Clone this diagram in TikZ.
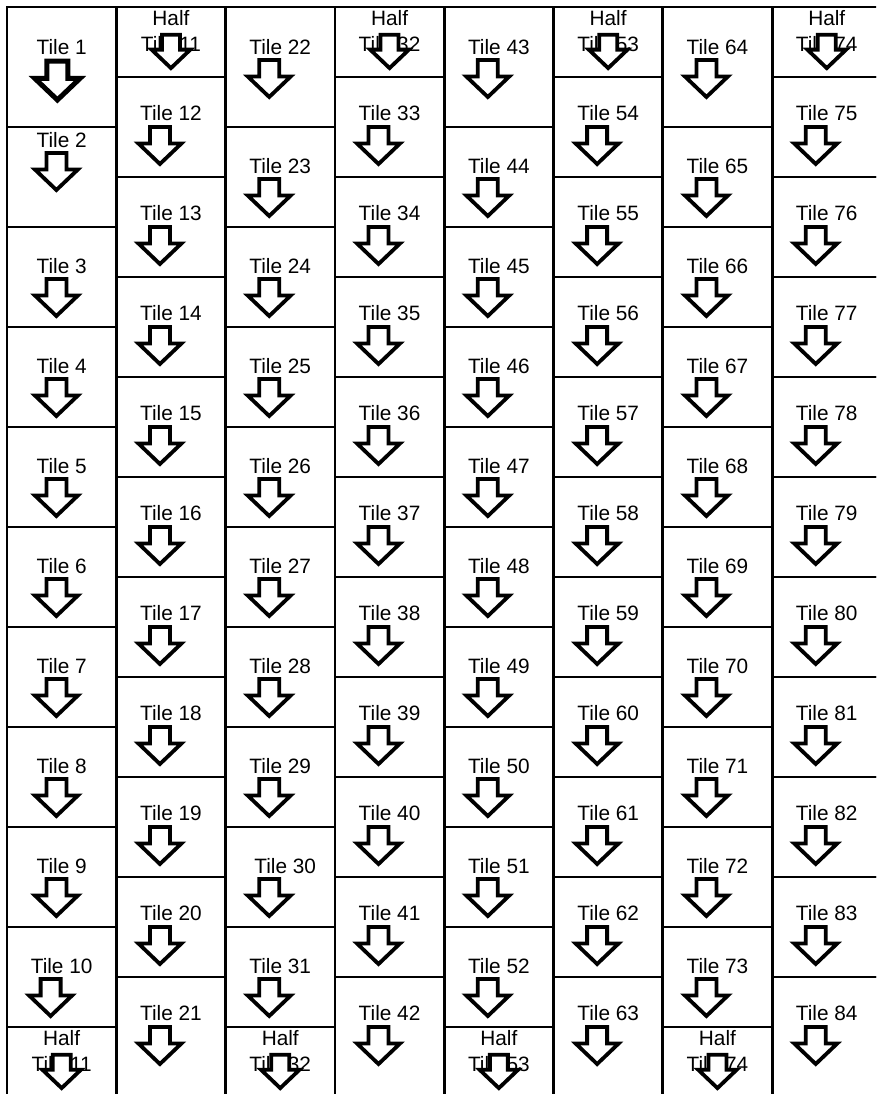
\documentclass[tikz,border=0pt]{standalone}
\usepackage{fontspec}
\setmainfont{Liberation Sans}
\usetikzlibrary{positioning}

\tikzset{
    tileline/.style={line width=2.8pt},
    tilelabel/.style={inner sep=0pt, font=\fontsize{20.8}{26}\selectfont},
    halflabel/.style={tilelabel, align=center},
    arrowline/.style={line width=3.8pt},
    pics/downarrow/.style={code={
        \draw[arrowline, fill=white, line join=miter, miter limit=3]
            (-10,2) -- (10,2) -- (10,18.5) -- (21.5,18.5) -- (0,39)
            -- (-21.5,18.5) -- (-10,18.5) -- cycle;
    }},
}

\begin{document}
\begin{tikzpicture}[x=1pt, y=-1pt]
    \useasboundingbox (0,0) rectangle (876,1094);
    \clip (0,0) rectangle (876,1094);

    % columns that start with a full tile and end with a half tile
    \foreach \c in {0,2,4,6} {
        \pgfmathsetmacro{\xl}{7+109.3*\c}
        \pgfmathsetmacro{\xr}{\xl+109.3}
        \pgfmathsetmacro{\xm}{\xl+54.65}
        \foreach \k in {0,...,9} {
            \pgfmathtruncatemacro{\n}{1+21*\c/2+\k}
            \pgfmathsetmacro{\yt}{\k==0 ? 7 : 27+100*\k}
            \pgfmathsetmacro{\yb}{127+100*\k}
            \pgfmathsetmacro{\ly}{\k==0 ? 47 : (\n==2 ? \yt+13 : \yt+39)}
            \pgfmathsetmacro{\lx}{\n==30 ? \xm+5 : \xm}
            \pgfmathsetmacro{\ax}{\n==30 ? 15 : 20}
            \draw[tileline] (\xl,\yt) rectangle (\xr,\yb);
            \node[tilelabel] (t\n) at (\lx,\ly) {Tile \n};
            \ifnum\n=1
                \pic[scale=1.05, arrowline/.style={line width=5pt}]
                    at ([xshift=21pt, yshift=-12pt]t\n.west) {downarrow};
            \else
                \pic at ([xshift=\ax pt, yshift=-11pt]t\n.west) {downarrow};
            \fi
        }
        % half tile at the foot
        \pgfmathtruncatemacro{\h}{21*\c/2+11}
        \draw[tileline] (\xl,1027) rectangle (\xr,1120);
        \node[halflabel] (half\h-foot) at (\xm,1051) {Half\\Tile \h};
        \pic[scale=0.9] at ([yshift=-2pt]half\h-foot.center) {downarrow};
    }

    % columns that start with a half tile
    \foreach \c in {1,3,5,7} {
        \pgfmathsetmacro{\xl}{7+109.3*\c}
        \pgfmathsetmacro{\xr}{\xl+109.3}
        \pgfmathsetmacro{\xm}{\xl+54.65}
        \pgfmathtruncatemacro{\h}{21*(\c-1)/2+11}
        \draw[tileline] (\xl,7) rectangle (\xr,77);
        \node[halflabel] (half\h-head) at (\xm,31.5) {Half\\Tile \h};
        \pic[scale=0.9] at ([yshift=-1.5pt]half\h-head.center) {downarrow};
        \foreach \k in {0,...,9} {
            \pgfmathtruncatemacro{\n}{\h+1+\k}
            \pgfmathsetmacro{\yt}{77+100*\k}
            \pgfmathsetmacro{\yb}{\k==9 ? 1120 : \yt+100}
            \draw[tileline] (\xl,\yt) rectangle (\xr,\yb);
            \node[tilelabel] (t\n) at (\xm,\yt+36) {Tile \n};
            \pic at ([xshift=20pt, yshift=-12pt]t\n.west) {downarrow};
        }
    }
\end{tikzpicture}
\end{document}
